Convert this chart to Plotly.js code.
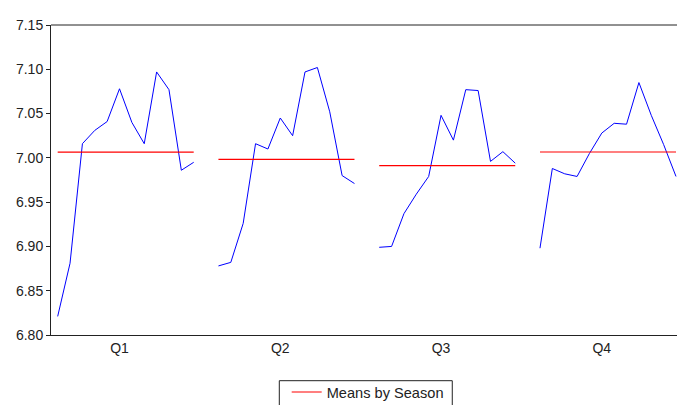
<!DOCTYPE html>
<html>
<head>
<meta charset="utf-8">
<script src="https://cdn.plot.ly/plotly-3.0.1.min.js"></script>
<style>html,body{margin:0;padding:0;background:#fff;}#chart{width:677px;height:405px;}</style>
</head>
<body>
<div id="chart"></div>
<script>
var seasons = ["Q1", "Q2", "Q3", "Q4"];
var q1 = [6.821, 6.881, 7.016, 7.031, 7.041, 7.078, 7.040, 7.016, 7.097, 7.077, 6.986, 6.995];
var q2 = [6.878, 6.882, 6.926, 7.016, 7.010, 7.045, 7.025, 7.097, 7.102, 7.052, 6.980, 6.971];
var q3 = [6.899, 6.900, 6.937, 6.959, 6.979, 7.048, 7.020, 7.077, 7.076, 6.996, 7.007, 6.994];
var q4 = [6.898, 6.988, 6.982, 6.979, 7.005, 7.028, 7.039, 7.038, 7.085, 7.048, 7.015, 6.979];
var seasonMeans = [7.0064, 6.9983, 6.9912, 7.0066];
var yTicks = [6.80, 6.85, 6.90, 6.95, 7.00, 7.05, 7.10, 7.15];

var groups = [q1, q2, q3, q4];
var gap = 13;
var lx = [], ly = [], mx = [], my = [];
groups.forEach(function (g, gi) {
  g.forEach(function (v, i) { lx.push(gi * gap + i); ly.push(v); });
  lx.push(null); ly.push(null);
  mx.push(gi * gap, gi * gap + g.length - 1, null);
  my.push(seasonMeans[gi], seasonMeans[gi], null);
});

var font = {family: "Liberation Sans, Arial, sans-serif", size: 14, color: "#222"};

var traces = [
  {x: lx, y: ly, mode: "lines", line: {color: "#0000ff", width: 1}, showlegend: false, connectgaps: false, hoverinfo: "skip"},
  {x: mx, y: my, mode: "lines", line: {color: "#ff0000", width: 1.2}, name: "Means by Season", connectgaps: false}
];

var layout = {
  width: 677, height: 405,
  margin: {l: 51, r: 0, t: 25, b: 70, pad: 0, autoexpand: false},
  paper_bgcolor: "#fff", plot_bgcolor: "#fff",
  font: font,
  showlegend: true,
  legend: {x: 0.3765, xanchor: "left", yref: "container", y: 0.0716, yanchor: "top",
           borderwidth: 0, bgcolor: "rgba(0,0,0,0)",
           font: {family: font.family, size: 14.6, color: "#222"}, orientation: "h"},
  xaxis: {range: [-0.54, 50.08], showgrid: false, zeroline: false,
          showline: true, linecolor: "#222", linewidth: 1, mirror: false,
          tickmode: "array", tickvals: seasons.map(function (s, i) { return i * gap + 5; }),
          ticktext: seasons, ticks: "", tickfont: font},
  yaxis: {range: [6.80, 7.15], showgrid: false, zeroline: false,
          showline: true, linecolor: "#222", linewidth: 1, mirror: false,
          tickmode: "array", tickvals: yTicks, ticktext: yTicks.map(function (v) { return v.toFixed(2); }),
          ticks: "outside", ticklen: 4, tickcolor: "#222", tickfont: font},
  shapes: [
    {type: "line", xref: "paper", yref: "paper", x0: 0, x1: 1, y0: 1, y1: 1,
     line: {color: "#222", width: 1}},
    {type: "rect", xref: "paper", yref: "paper", x0: 0.3647, x1: 0.641, y0: -0.1474, y1: -0.245,
     line: {color: "#222", width: 1}, fillcolor: "rgba(0,0,0,0)", layer: "below"}
  ]
};

Plotly.newPlot("chart", traces, layout, {staticPlot: true, displayModeBar: false});
</script>
</body>
</html>
